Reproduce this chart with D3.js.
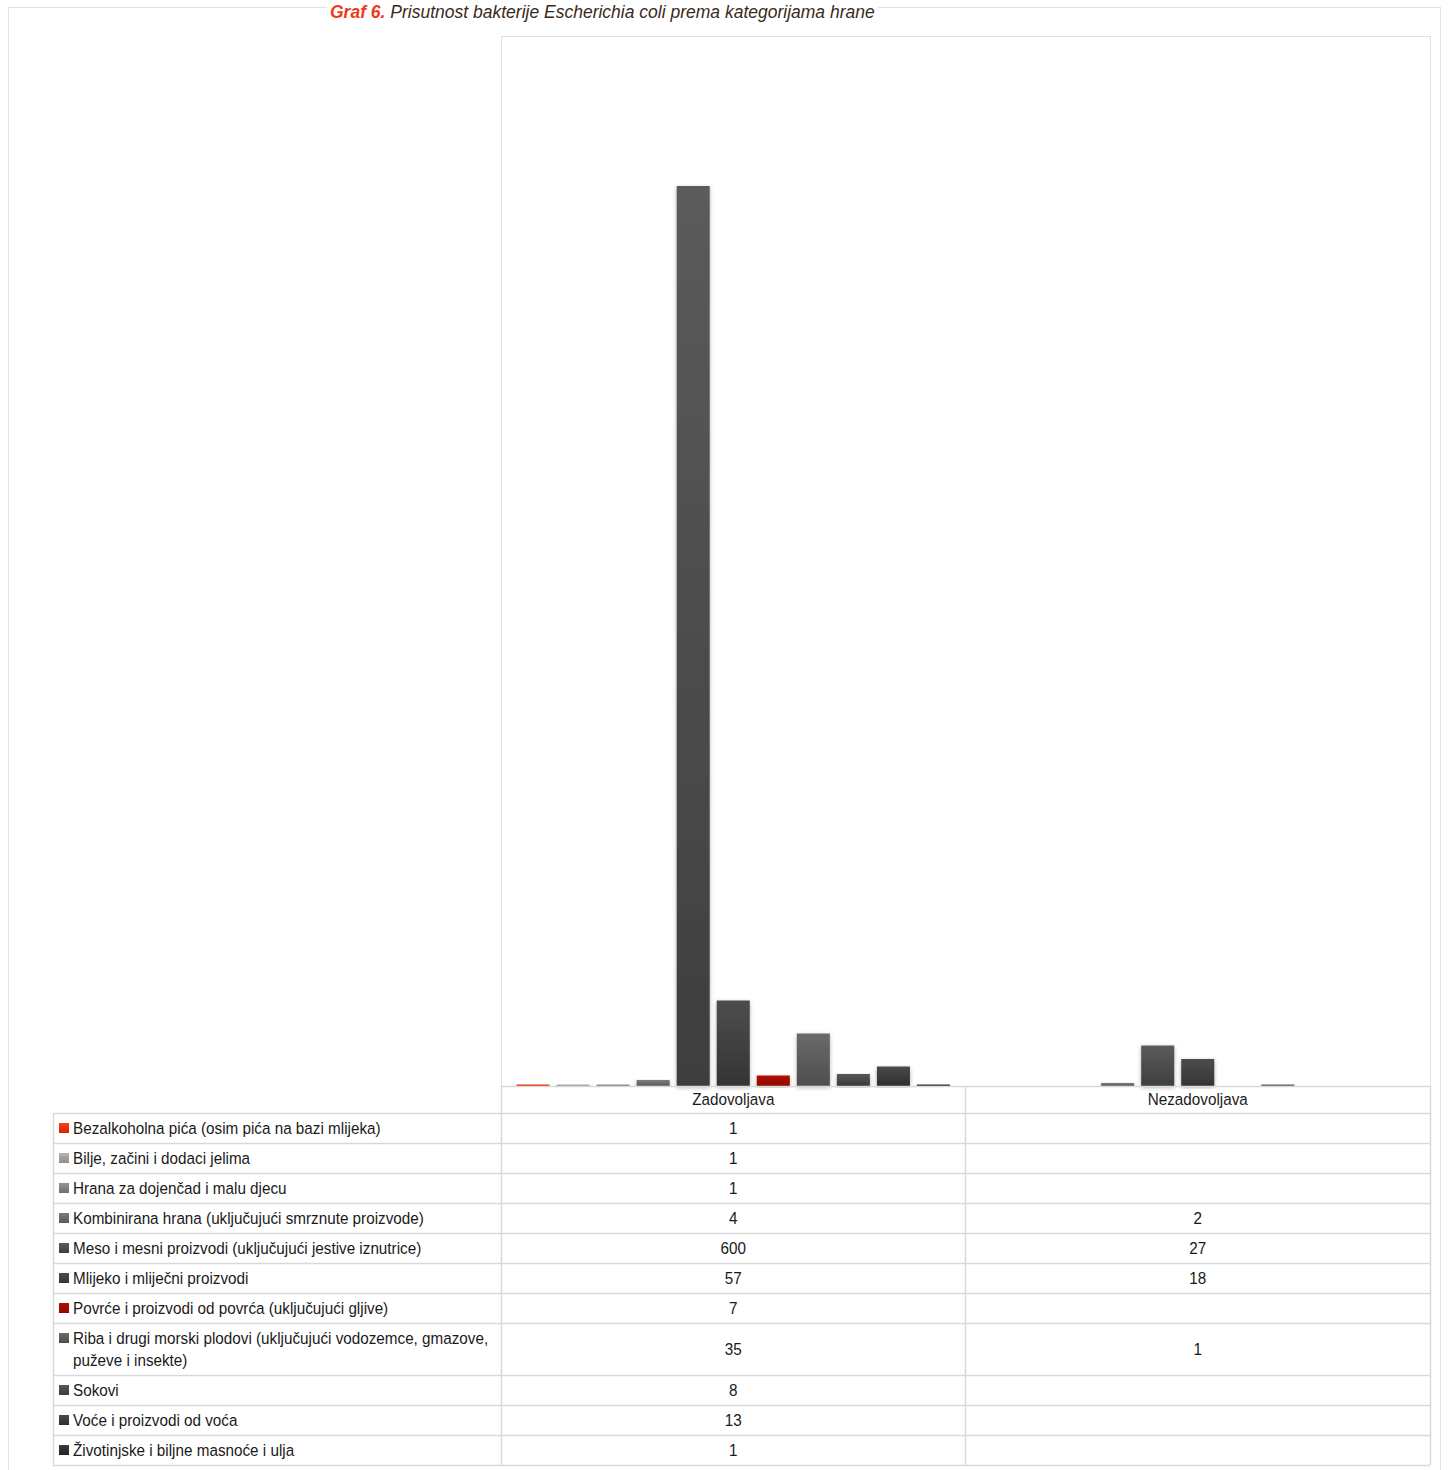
<!DOCTYPE html>
<html>
<head>
<meta charset="utf-8">
<script src="https://cdn.jsdelivr.net/npm/d3@7"></script>
<style>
  html, body { margin: 0; padding: 0; background: #fff; }
  svg { display: block; }
</style>
</head>
<body>
<svg id="chart" width="1448" height="1470"></svg>
<script>
// ---------- DATA ----------
const groups = ["Zadovoljava", "Nezadovoljava"];
const seriesNames = [
  "Bezalkoholna pića (osim pića na bazi mlijeka)",
  "Bilje, začini i dodaci jelima",
  "Hrana za dojenčad i malu djecu",
  "Kombinirana hrana (uključujući smrznute proizvode)",
  "Meso i mesni proizvodi (uključujući jestive iznutrice)",
  "Mlijeko i mliječni proizvodi",
  "Povrće i proizvodi od povrća (uključujući gljive)",
  "Riba i drugi morski plodovi (uključujući vodozemce, gmazove,|puževe i insekte)",
  "Sokovi",
  "Voće i proizvodi od voća",
  "Životinjske i biljne masnoće i ulja"
];
const valuesZadovoljava   = [1, 1, 1, 4, 600, 57, 7, 35, 8, 13, 1];
const valuesNezadovoljava = [null, null, null, 2, 27, 18, null, 1, null, null, null];
const titlePrefix = "Graf 6.";
const titleText = " Prisutnost bakterije Escherichia coli prema kategorijama hrane";

// ---------- STYLE ----------
const gradTop = ["#ff3c12","#b4b4b4","#939393","#7c7c7c","#5b5b5b","#4d4d4d","#b01200","#6a6a6a","#585858","#4a4a4a","#3a3a3a"];
const gradBot = ["#d42200","#8e8e8e","#6e6e6e","#5a5a5a","#3e3e3e","#343434","#8c0c00","#4e4e4e","#3a3a3a","#2e2e2e","#222222"];
const FONT = "'Liberation Sans', Arial, sans-serif";
const FS = 16.5, SX = 0.925;
const gridColor = "#d9d9d9";

const svg = d3.select("#chart");
const defs = svg.append("defs");
seriesNames.forEach((s, i) => {
  const g = defs.append("linearGradient").attr("id", "g" + i)
    .attr("x1", 0).attr("y1", 0).attr("x2", 0).attr("y2", 1);
  g.append("stop").attr("offset", "0%").attr("stop-color", gradTop[i]);
  g.append("stop").attr("offset", "100%").attr("stop-color", gradBot[i]);
});
const f = defs.append("filter").attr("id", "shadow")
  .attr("x", "-30%").attr("y", "-5%").attr("width", "160%").attr("height", "115%");
f.append("feDropShadow").attr("dx", 0).attr("dy", 1.5).attr("stdDeviation", 2)
  .attr("flood-color", "#000").attr("flood-opacity", 0.3);

function ntext(sel, x, y, str, anchor) {
  return sel.append("text")
    .attr("transform", `translate(${x},${y}) scale(${SX},1)`)
    .attr("text-anchor", anchor || "start").attr("dominant-baseline", "middle")
    .attr("font-family", FONT).attr("font-size", FS).attr("fill", "#1a1a1a").text(str);
}

// Outer frame
svg.append("rect").attr("x", 8.5).attr("y", 7.5).attr("width", 1432).attr("height", 1470)
  .attr("fill", "none").attr("stroke", "#e2e2e2");

// Title
const title = svg.append("text").attr("x", 330).attr("y", 18)
  .attr("font-family", FONT).attr("font-size", 17.5)
  .attr("font-style", "italic");
title.append("tspan").attr("fill", "#ee3a1a").attr("font-weight", "bold").text(titlePrefix);
title.append("tspan").attr("fill", "#3a2a1a").text(titleText);
const tb = title.node().getBBox();
svg.insert("rect", "text").attr("x", tb.x - 3).attr("y", tb.y).attr("width", tb.width + 6).attr("height", tb.height)
  .attr("fill", "#fff");

// Plot area
const plot = { left: 501, right: 1430, top: 36, bottom: 1086 };
svg.append("rect").attr("x", plot.left + 0.5).attr("y", plot.top + 0.5)
  .attr("width", plot.right - plot.left).attr("height", plot.bottom - plot.top)
  .attr("fill", "none").attr("stroke", "#e0e0e0");

const x0 = d3.scaleBand().domain(groups).range([plot.left, plot.right]).paddingInner(0).paddingOuter(0);
const x1 = d3.scaleBand().domain(seriesNames).range([0, x0.bandwidth()])
  .paddingInner(0.175).paddingOuter(0.3875);
const y = d3.scaleLinear().domain([0, 700]).range([plot.bottom, plot.top]);

const allValues = [valuesZadovoljava, valuesNezadovoljava];
const barData = [];
groups.forEach((g, gi) => {
  seriesNames.forEach((s, si) => {
    const v = allValues[gi][si];
    if (v != null) barData.push({ g, s, si, v });
  });
});

svg.append("g").selectAll("rect").data(barData).join("rect")
  .attr("x", d => x0(d.g) + x1(d.s))
  .attr("width", x1.bandwidth())
  .attr("y", d => y(d.v))
  .attr("height", d => Math.max(1, y(0) - y(d.v)))
  .attr("fill", d => `url(#g${d.si})`)
  .attr("filter", "url(#shadow)");

// ---------- DATA TABLE ----------
const tableLeft = 53;
const headerTop = plot.bottom, headerBottom = 1113;
const lineH = 22;
const rows = [];
let yy = headerBottom;
seriesNames.forEach((s, i) => {
  const lines = s.split("|");
  const h = 30 + (lines.length - 1) * lineH;
  rows.push({ s, i, lines, top: yy, bottom: yy + h });
  yy += h;
});
const tableBottom = yy;

const tg = svg.append("g");
tg.append("line").attr("x1", plot.left).attr("x2", plot.right).attr("y1", headerTop + 0.5).attr("y2", headerTop + 0.5)
  .attr("stroke", gridColor).attr("stroke-width", 1.5);
[headerBottom].concat(rows.map(r => r.bottom)).forEach(v => {
  tg.append("line").attr("x1", tableLeft).attr("x2", plot.right).attr("y1", v + 0.5).attr("y2", v + 0.5)
    .attr("stroke", gridColor).attr("stroke-width", 1.5);
});
tg.append("line").attr("x1", tableLeft + 0.5).attr("x2", tableLeft + 0.5).attr("y1", headerBottom).attr("y2", tableBottom)
  .attr("stroke", gridColor).attr("stroke-width", 1.5);
[plot.left, plot.left + x0.bandwidth(), plot.right].forEach(v => {
  tg.append("line").attr("x1", Math.floor(v) + 0.5).attr("x2", Math.floor(v) + 0.5).attr("y1", headerTop).attr("y2", tableBottom)
    .attr("stroke", gridColor).attr("stroke-width", 1.5);
});

groups.forEach(g => {
  ntext(tg, x0(g) + x0.bandwidth() / 2, (headerTop + headerBottom) / 2 + 1.5, g, "middle");
});

rows.forEach(r => {
  const firstY = r.top + 15;
  tg.append("rect").attr("x", 59).attr("y", firstY - 5).attr("width", 10).attr("height", 10)
    .attr("fill", `url(#g${r.i})`);
  r.lines.forEach((ln, li) => {
    ntext(tg, 73, firstY + li * lineH + 1.5, ln, "start");
  });
  groups.forEach((g, gi) => {
    const v = allValues[gi][r.i];
    if (v == null) return;
    ntext(tg, x0(g) + x0.bandwidth() / 2, (r.top + r.bottom) / 2 + 1.5, String(v), "middle");
  });
});
</script>
</body>
</html>
